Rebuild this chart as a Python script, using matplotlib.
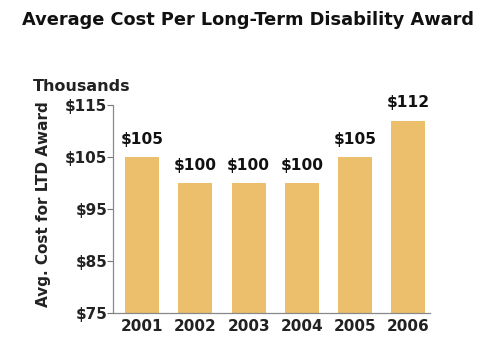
import matplotlib.pyplot as plt

# average cost per LTD award, thousands of dollars
years = ['2001', '2002', '2003', '2004', '2005', '2006']
costs = [105, 100, 100, 100, 105, 112]
yticks = [75, 85, 95, 105, 115]

plt.rcParams['font.family'] = ['DejaVu Sans']
plt.rcParams['font.weight'] = 'bold'

fig = plt.figure(figsize=(4.81, 3.39), dpi=100)
ax = fig.add_axes([0.235, 0.0767, 0.659, 0.644])

x = range(len(years))
ax.bar(x, costs, width=0.64, color='#ECBF6C')
for i, v in zip(x, costs):
    ax.text(i, v + 2.0, '$%d' % v, ha='center', va='bottom',
            fontsize=11.2, fontweight='bold', color='#111111')

ax.set_ylim(75, 117)
ax.set_xlim(-0.55, 5.41)
ax.set_yticks(yticks)
ax.set_yticklabels(['$%d' % t for t in yticks], fontsize=11,
                   fontweight='bold', color='#222222')
ax.set_xticks(list(x))
ax.set_xticklabels(years, fontsize=11, fontweight='bold', color='#222222')
ax.tick_params(axis='x', length=0, pad=4)
ax.tick_params(axis='y', length=4, width=0.8, color='#777777', pad=0)

for s in ['top', 'right']:
    ax.spines[s].set_visible(False)
ax.spines['left'].set_color('#888888')
ax.spines['left'].set_bounds(75, 115)
ax.spines['bottom'].set_color('#888888')
ax.spines['left'].set_linewidth(0.9)
ax.spines['bottom'].set_linewidth(0.9)

ax.set_ylabel('Avg. Cost for LTD Award', fontsize=11, fontweight='bold',
              color='#222222', labelpad=10)

fig.text(0.046, 0.94, 'Average Cost Per Long-Term Disability Award',
         fontsize=12.8, fontweight='bold', color='#111111', va='center')
fig.text(0.068, 0.745, 'Thousands', fontsize=11.5, fontweight='bold',
         color='#222222', va='center')

fig.savefig('out.png', dpi=100)
